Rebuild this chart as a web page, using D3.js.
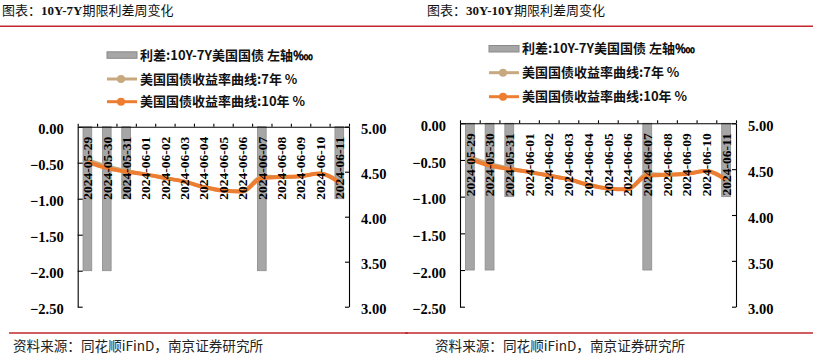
<!DOCTYPE html>
<html>
<head>
<meta charset="utf-8">
<script src="https://cdn.jsdelivr.net/npm/d3@7"></script>
<style>
  body { margin: 0; background: #fff; }
  svg { display: block; }
</style>
</head>
<body>
<div id="chart"></div>
<script>
// data
const dates = ["2024-05-29", "2024-05-30", "2024-05-31", "2024-06-01", "2024-06-02", "2024-06-03", "2024-06-04",
  "2024-06-05", "2024-06-06", "2024-06-07", "2024-06-08", "2024-06-09", "2024-06-10", "2024-06-11"];
const spreadLeft = [-2, -2, -1, 0, 0, 0, 0, 0, 0, -2, 0, 0, 0, -1];
const spreadRight = [-2, -2, -1, 0, 0, 0, 0, 0, 0, -2, 0, 0, 0, -1];
const yield7Y = [4.63, 4.56, 4.51, 4.47, 4.43, 4.39, 4.33, 4.29, 4.28, 4.45, 4.44, 4.45, 4.48, 4.39];
const yield10Y = [4.61, 4.54, 4.50, 4.47, 4.43, 4.39, 4.33, 4.29, 4.28, 4.43, 4.44, 4.45, 4.48, 4.38];
const leftTicks = [0, -0.5, -1, -1.5, -2, -2.5];
const rightTicks = [5, 4.5, 4, 3.5, 3];
const legendLabels = ["利差:10Y-7Y美国国债 左轴‱", "美国国债收益率曲线:7年 %", "美国国债收益率曲线:10年 %"];

const W = 813, H = 354;
const serif = "'Liberation Serif', 'Times New Roman', serif";
const cjk = "'Noto Sans CJK SC', sans-serif";
const red = "#c0282d";
const c7 = "#c8a87f", c10 = "#ed7d31";

const svg = d3.select("#chart").append("svg").attr("width", W).attr("height", H);

function panel(p) {
  const g = svg.append("g");

  // title
  const t = g.append("text").attr("x", p.titleX).attr("y", 15).attr("font-size", 13).attr("fill", "#111");
  t.append("tspan").attr("font-family", cjk).text("图表：");
  t.append("tspan").attr("font-family", serif).attr("font-weight", "bold").text(p.code);
  t.append("tspan").attr("font-family", cjk).text("期限利差周变化");

  g.append("line").attr("x1", p.x0).attr("x2", p.x1).attr("y1", 26.3).attr("y2", 26.3)
    .attr("stroke", red).attr("stroke-width", 1.5);
  g.append("line").attr("x1", p.fx0).attr("x2", p.x1).attr("y1", 333).attr("y2", 333)
    .attr("stroke", red).attr("stroke-width", 1.5);
  g.append("text").attr("x", p.srcX).attr("y", 351).attr("font-family", cjk).attr("font-size", 13.6)
    .attr("fill", "#222").text("资料来源：同花顺iFinD，南京证券研究所");

  // legend
  const lg = g.append("g").attr("font-family", cjk).attr("font-weight", "bold").attr("font-size", 13).attr("fill", "#111");
  lg.append("rect").attr("x", p.lx).attr("y", p.ly[0] - 3.2).attr("width", 30).attr("height", 6.5)
    .attr("fill", "#a6a6a6").attr("stroke", "#8a8a8a").attr("stroke-width", 1);
  [[1, c7], [2, c10]].forEach(([i, c]) => {
    lg.append("line").attr("x1", p.lx).attr("x2", p.lx + 30).attr("y1", p.ly[i]).attr("y2", p.ly[i])
      .attr("stroke", c).attr("stroke-width", 3);
    lg.append("circle").attr("cx", p.lx + 14).attr("cy", p.ly[i]).attr("r", 4).attr("fill", c);
  });
  legendLabels.forEach((s, i) => {
    lg.append("text").attr("x", p.lx + 33).attr("y", p.ly[i]).attr("dy", "0.36em").text(s);
  });

  // scales
  const x = d3.scaleBand().domain(dates).range([p.left, p.right]).paddingInner(0.55).paddingOuter(0.275);
  const edge = d3.scaleLinear().domain([0, dates.length]).range([p.left, p.right]);
  const yL = d3.scaleLinear().domain([-2.5, 0]).range([p.bottom, p.top]);
  const yR = d3.scaleLinear().domain([3, 5]).range([p.bottom, p.top]);

  // bars
  g.append("g").selectAll("rect").data(p.spread).join("rect")
    .attr("x", (d, i) => x(dates[i]))
    .attr("y", yL(0))
    .attr("width", x.bandwidth())
    .attr("height", d => yL(d) - yL(0))
    .attr("fill", "#a6a6a6").attr("stroke", "#8c8c8c").attr("stroke-width", 0.8);

  // lines
  const cx = i => x(dates[i]) + x.bandwidth() / 2;
  const line = d3.line().x((d, i) => cx(i)).y(d => yR(d)).curve(d3.curveMonotoneX);
  g.append("path").datum(yield7Y).attr("d", line).attr("fill", "none").attr("stroke", c7).attr("stroke-width", 3.5);
  g.append("path").datum(yield10Y).attr("d", line).attr("fill", "none").attr("stroke", c10).attr("stroke-width", 4);

  // axes
  const axFont = ax => ax.call(s => s.selectAll("text").attr("font-family", serif).attr("font-weight", "bold")
      .attr("font-size", 14.5).attr("fill", "#000"))
    .call(s => s.selectAll("path,line").attr("stroke", "#000").attr("stroke-width", 1.1));

  g.append("g").attr("transform", `translate(${p.left},0)`)
    .call(d3.axisLeft(yL).tickValues(leftTicks).tickFormat(d3.format(".2f")).tickSizeInner(-5).tickSizeOuter(0).tickPadding(14))
    .call(axFont).call(s => s.selectAll("text").attr("dy", "0.5em"));
  g.append("g").attr("transform", `translate(${p.right},0)`)
    .call(d3.axisRight(yR).tickValues(rightTicks).tickFormat(d3.format(".2f")).tickSizeInner(-4).tickSizeOuter(0).tickPadding(12))
    .call(axFont).call(s => s.selectAll("text").attr("dy", "0.5em"));
  g.append("g").attr("transform", `translate(0,${p.top})`)
    .call(d3.axisTop(edge).tickValues(d3.range(dates.length + 1)).tickFormat("").tickSizeInner(3).tickSizeOuter(0))
    .call(axFont);

  // category labels
  g.append("g").selectAll("text").data(dates).join("text")
    .attr("transform", (d, i) => `translate(${cx(i)},${p.top + 10}) rotate(-90)`)
    .attr("text-anchor", "end").attr("dy", "0.35em")
    .attr("font-family", serif).attr("font-weight", "bold").attr("font-size", 13.5).attr("fill", "#000")
    .text(d => d);
}

panel({
  code: "10Y-7Y", titleX: 2, x0: 0, x1: 408, fx0: 9, srcX: 13,
  lx: 107, ly: [55, 79, 101.7],
  left: 77.7, right: 349, top: 126.7, bottom: 306.7, spread: spreadLeft
});
panel({
  code: "30Y-10Y", titleX: 427, x0: 408, x1: 813, fx0: 405, srcX: 435,
  lx: 489, ly: [48.7, 72.7, 96.7],
  left: 460, right: 736, top: 123.3, bottom: 306.7, spread: spreadRight
});
</script>
</body>
</html>
